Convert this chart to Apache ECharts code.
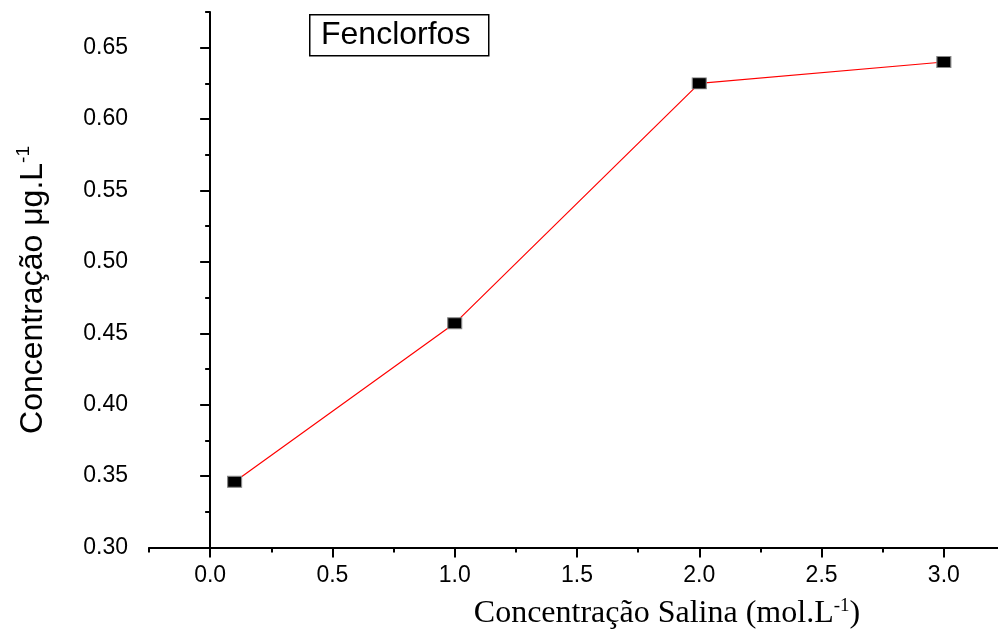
<!DOCTYPE html>
<html>
<head>
<meta charset="utf-8">
<script src="https://cdn.jsdelivr.net/npm/echarts@6/dist/echarts.min.js"></script>
<style>
	html, body { margin: 0; padding: 0; background: #fff; }
	#main { width: 998px; height: 635px; }
</style>
</head>
<body>
<div id="main"></div>
<script>
// salt concentration (mol.L-1) and measured concentration (ug.L-1)
var saltConc = [0.1, 1.0, 2.0, 3.0];
var fenclorfos = [0.346, 0.457, 0.625, 0.640];

// ticks
var xMajorTicks = [0, 0.5, 1.0, 1.5, 2.0, 2.5, 3.0];
var xMinorTicks = [-0.25, 0.25, 0.75, 1.25, 1.75, 2.25, 2.75, 3.25];
var yMajorTicks = [0.30, 0.35, 0.40, 0.45, 0.50, 0.55, 0.60, 0.65];
var yMinorTicks = [0.325, 0.375, 0.425, 0.475, 0.525, 0.575, 0.625, 0.675];

var SANS = '"Liberation Sans", Arial, sans-serif';
var SERIF = '"Liberation Serif", "Times New Roman", serif';

var myChart;
var option = {};

function buildData() {
	var data = [];
	for (var i = 0; i < saltConc.length; i++) {
		data.push([saltConc[i], fenclorfos[i]]);
	}
	return data;
}

function initECharts() {
	myChart = echarts.init(document.getElementById('main'), null, { renderer: 'canvas' });
	option = {
		animation : false,
		backgroundColor : '#fff',
		// plot runs a little past the right edge of the picture (x max 3.25)
		grid : {
			left : 149,
			width : 856,
			top : 12,
			height : 535.5,
			outerBoundsMode : 'none'
		},
		xAxis : [ {
			type : 'value',
			position : 'bottom',
			min : -0.25,
			max : 3.25,
			splitLine : { show : false },
			axisLine : { lineStyle : { color : '#000', width : 2 } },
			axisTick : {
				customValues : xMajorTicks,
				length : 10,
				lineStyle : { color : '#000', width : 2 }
			},
			axisLabel : {
				customValues : xMajorTicks,
				margin : 17,
				color : '#000',
				fontFamily : SANS,
				fontSize : 23,
				formatter : function(v) { return v.toFixed(1); }
			}
		}, {
			// minor ticks only
			type : 'value',
			position : 'bottom',
			min : -0.25,
			max : 3.25,
			splitLine : { show : false },
			axisLine : { show : false },
			axisTick : {
				customValues : xMinorTicks,
				length : 5,
				lineStyle : { color : '#000', width : 2 }
			},
			axisLabel : { show : false }
		} ],
		yAxis : [ {
			type : 'value',
			position : 'left',
			min : 0.30,
			max : 0.675,
			splitLine : { show : false },
			axisLine : { lineStyle : { color : '#000', width : 2 } },
			axisTick : {
				customValues : yMajorTicks,
				length : 10,
				lineStyle : { color : '#000', width : 2 }
			},
			axisLabel : {
				customValues : yMajorTicks,
				margin : 21,
				color : '#000',
				fontFamily : SANS,
				fontSize : 23,
				formatter : function(v) { return v.toFixed(2); }
			}
		}, {
			type : 'value',
			position : 'left',
			min : 0.30,
			max : 0.675,
			splitLine : { show : false },
			axisLine : { show : false },
			axisTick : {
				customValues : yMinorTicks,
				length : 5,
				lineStyle : { color : '#000', width : 2 }
			},
			axisLabel : { show : false }
		} ],
		graphic : [ {
			// legend box
			type : 'rect',
			left : 309,
			top : 14,
			shape : { width : 179, height : 41 },
			style : { fill : '#fff', stroke : '#000', lineWidth : 1.5 }
		}, {
			type : 'text',
			left : 321,
			top : 19,
			style : {
				text : 'Fenclorfos',
				fill : '#000',
				font : '32px ' + SANS
			}
		}, {
			// x axis title
			type : 'text',
			x : 667,
			y : 614,
			style : {
				text : '{t|Concentração Salina (mol.L}{s|-1}{t|)}',
				align : 'center',
				verticalAlign : 'middle',
				rich : {
					t : { fontFamily : SERIF, fontSize : 32, color : '#000' },
					s : { fontFamily : SERIF, fontSize : 19, color : '#000', verticalAlign : 'top', padding : [0, 0, 16, 0] }
				}
			}
		}, {
			// y axis title
			type : 'text',
			x : 33,
			y : 290,
			rotation : Math.PI / 2,
			style : {
				text : '{t|Concentração μg.L}{s|-1}',
				align : 'center',
				verticalAlign : 'middle',
				rich : {
					t : { fontFamily : SANS, fontSize : 32, color : '#000' },
					s : { fontFamily : SANS, fontSize : 19, color : '#000', verticalAlign : 'top', padding : [0, 0, 18, 0] }
				}
			}
		} ],
		series : [ {
			name : 'Fenclorfos',
			type : 'line',
			xAxisIndex : 0,
			yAxisIndex : 0,
			data : buildData(),
			symbol : 'rect',
			symbolSize : [14, 11],
			itemStyle : { color : '#000', borderColor : '#888', borderWidth : 1 },
			lineStyle : { color : '#ff0000', width : 1.2 }
		} ]
	};
	myChart.setOption(option);
}

initECharts();
</script>
</body>
</html>
